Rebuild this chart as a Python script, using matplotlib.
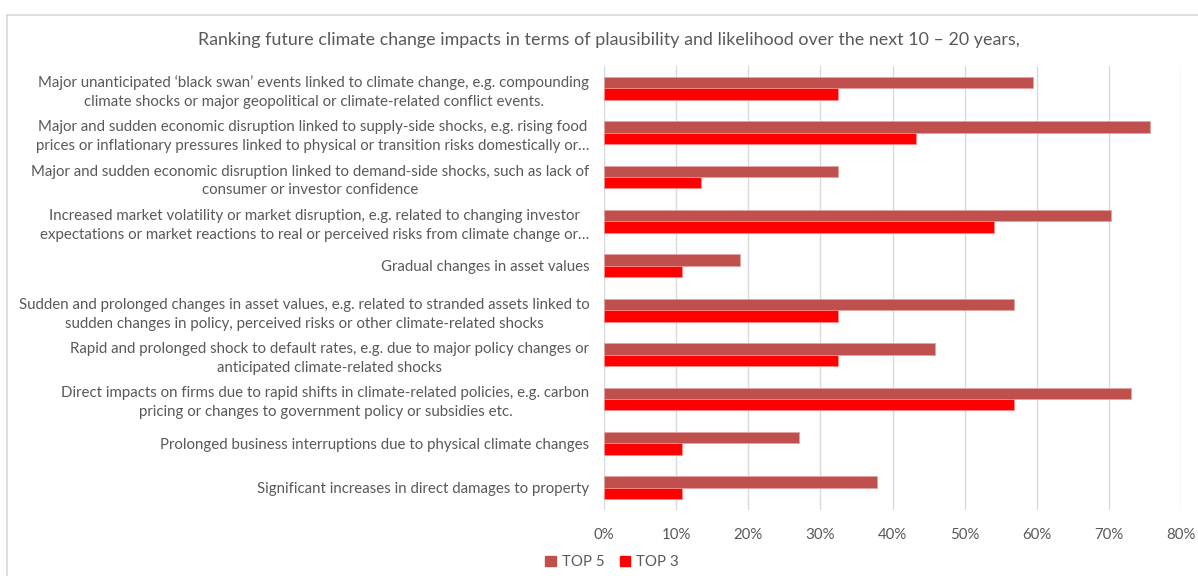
import matplotlib

matplotlib.use("Agg")
import matplotlib.pyplot as plt
import numpy as np
from matplotlib.lines import Line2D
from matplotlib.patches import Patch
from matplotlib.ticker import FuncFormatter

C_TOP5 = "#C0504D"
C_TOP3 = "#FF0000"
C_TEXT = "#595959"
C_GRID = "#D9D9D9"

plt.rcParams["font.family"] = ["Lato", "DejaVu Sans"]

categories = [
    "Major unanticipated \u2018black swan\u2019 events linked to climate change, e.g. compounding\n"
    "climate shocks or major geopolitical or climate-related conflict events.",
    "Major and sudden economic disruption linked to supply-side shocks, e.g. rising food\n"
    "prices or inflationary pressures linked to physical or transition risks domestically or\u2026",
    "Major and sudden economic disruption linked to demand-side shocks, such as lack of\n"
    "consumer or investor confidence",
    "Increased market volatility or market disruption, e.g. related to changing investor\n"
    "expectations or market reactions to real or perceived risks from climate change or\u2026",
    "Gradual changes in asset values",
    "Sudden and prolonged changes in asset values, e.g. related to stranded assets linked to\n"
    "sudden changes in policy, perceived risks or other climate-related shocks",
    "Rapid and prolonged shock to default rates, e.g. due to major policy changes or\n"
    "anticipated climate-related shocks",
    "Direct impacts on firms due to rapid shifts in climate-related policies, e.g. carbon\n"
    "pricing or changes to government policy or subsidies etc.",
    "Prolonged business interruptions due to physical climate changes",
    "Significant increases in direct damages to property",
]
top5 = [0.595, 0.757, 0.324, 0.703, 0.189, 0.568, 0.459, 0.730, 0.270, 0.378]
top3 = [0.324, 0.432, 0.135, 0.541, 0.108, 0.324, 0.324, 0.568, 0.108, 0.108]

fig = plt.figure(figsize=(11.98, 5.76), dpi=100, facecolor="white")
ax = fig.add_axes([0.5042, 0.1146, 0.4816, 0.7708])

y = np.arange(len(categories))
h = 0.255
ax.barh(y - h / 2, top5, height=h, color=C_TOP5, edgecolor="#E3A3A1", linewidth=0.6, zorder=3)
ax.barh(y + h / 2, top3, height=h, color=C_TOP3, edgecolor="#FF8A8A", linewidth=0.6, zorder=3)

ax.set_xlim(0, 0.8)
ax.set_ylim(len(categories) - 0.5, -0.5)
ax.set_xticks(np.arange(0, 0.81, 0.1))
ax.xaxis.set_major_formatter(FuncFormatter(lambda v, _: f"{v * 100:.0f}%"))
ax.set_yticks(y)
ax.set_yticklabels(categories)
for t in ax.get_yticklabels():
    t.set_multialignment("center")
    t.set_linespacing(1.45)

ax.tick_params(axis="both", length=0, colors=C_TEXT, labelsize=10.8)
ax.tick_params(axis="y", pad=10.5)
ax.tick_params(axis="x", pad=13)
ax.grid(True, axis="x", color=C_GRID, lw=1.0, zorder=0)
for side in ["top", "right", "bottom", "left"]:
    ax.spines[side].set_visible(False)

fig.text(0.508, 0.930, "Ranking future climate change impacts in terms of plausibility and "
         "likelihood over the next 10 \u2013 20 years,",
         ha="center", va="center", fontsize=12.9, color=C_TEXT)

fig.legend(
    handles=[Patch(color=C_TOP5, label="TOP 5"), Patch(color=C_TOP3, label="TOP 3")],
    loc="center",
    bbox_to_anchor=(0.511, 0.024),
    ncol=2,
    frameon=False,
    fontsize=10.8,
    labelcolor=C_TEXT,
    handlelength=0.7,
    handleheight=0.7,
    handletextpad=0.4,
    columnspacing=1.0,
)

# chart frame edges
fig.add_artist(Line2D([7 / 1198, 1], [1 - 15 / 576] * 2, color=C_GRID, lw=1.2,
                      transform=fig.transFigure))
fig.add_artist(Line2D([7 / 1198] * 2, [0, 1 - 15 / 576], color=C_GRID, lw=1.2,
                      transform=fig.transFigure))

fig.savefig("out.png", dpi=100)
